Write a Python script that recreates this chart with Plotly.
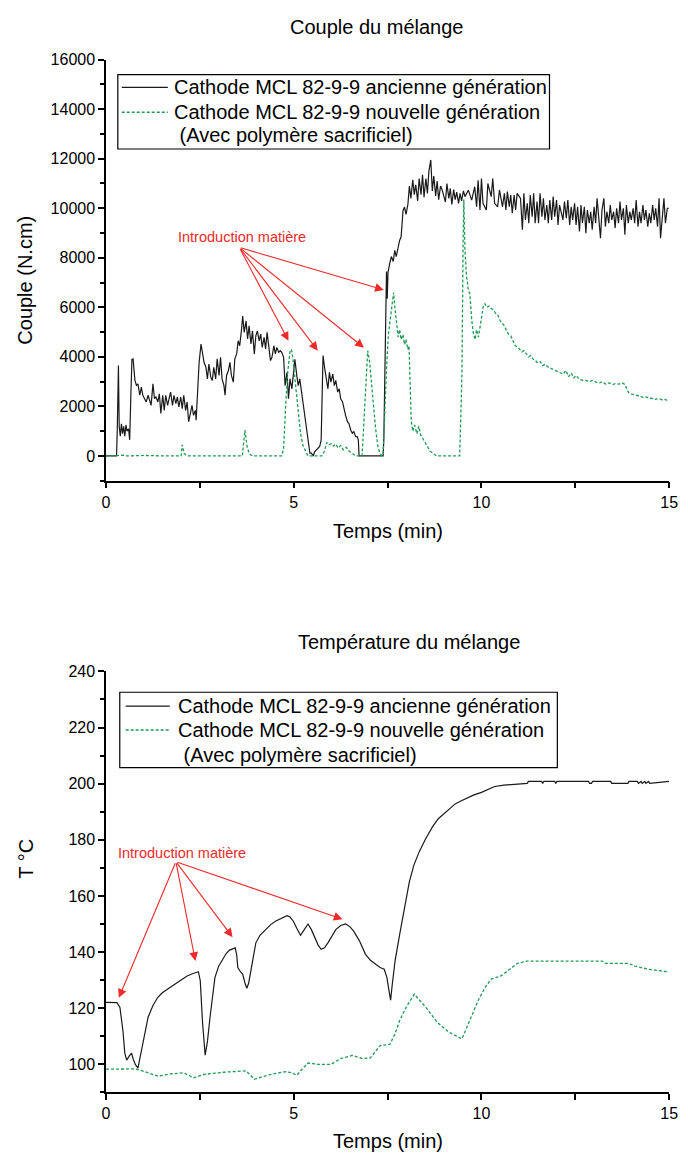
import plotly.graph_objects as go

# ---------------- DATA ----------------
# Torque (N.cm) vs time (min) - old generation cathode
torque_old_t = [0, 0.28, 0.30, 0.33, 0.35, 0.38, 0.41, 0.44, 0.47, 0.50, 0.53, 0.56, 0.60, 0.63, 0.66, 0.69,
    0.72, 0.77, 0.81, 0.85, 0.90, 0.94, 0.98, 1.03, 1.07, 1.12, 1.16, 1.20, 1.25, 1.29, 1.33, 1.38, 1.42, 1.46,
    1.51, 1.55, 1.59, 1.64, 1.68, 1.72, 1.77, 1.81, 1.86, 1.90, 1.94, 1.99, 2.03, 2.07, 2.12, 2.16, 2.20, 2.25,
    2.29, 2.33, 2.38, 2.40, 2.44, 2.48, 2.53, 2.57, 2.61, 2.66, 2.70, 2.74, 2.79, 2.83, 2.87, 2.92, 2.96, 3.01,
    3.05, 3.09, 3.14, 3.17, 3.21, 3.26, 3.30, 3.34, 3.39, 3.43, 3.48, 3.52, 3.56, 3.61, 3.64, 3.68, 3.73, 3.77,
    3.81, 3.86, 3.90, 3.95, 3.99, 4.03, 4.08, 4.12, 4.16, 4.21, 4.25, 4.29, 4.34, 4.38, 4.42, 4.47, 4.51, 4.55,
    4.60, 4.64, 4.68, 4.73, 4.77, 4.82, 4.86, 4.90, 4.95, 4.99, 5.03, 5.08, 5.12, 5.16, 5.21, 5.25, 5.29, 5.34,
    5.38, 5.43, 5.47, 5.52, 5.56, 5.60, 5.64, 5.69, 5.73, 5.76, 5.78, 5.82, 5.86, 5.91, 5.95, 5.99, 6.04, 6.08,
    6.12, 6.17, 6.21, 6.25, 6.30, 6.34, 6.38, 6.43, 6.47, 6.52, 6.56, 6.60, 6.65, 6.69, 6.72, 6.74, 7.38, 7.40,
    7.43, 7.45, 7.47, 7.49, 7.51, 7.56, 7.60, 7.65, 7.69, 7.73, 7.78, 7.82, 7.86, 7.91, 7.95, 7.99, 8.04, 8.08,
    8.12, 8.17, 8.21, 8.25, 8.30, 8.34, 8.39, 8.43, 8.47, 8.52, 8.56, 8.60, 8.65, 8.69, 8.73, 8.78, 8.82, 8.86,
    8.91, 8.95, 9.04, 9.08, 9.13, 9.17, 9.21, 9.26, 9.30, 9.34, 9.39, 9.43, 9.47, 9.52,
    9.56, 9.65, 9.74, 9.82, 9.87, 9.91, 9.96, 10.00, 10.04, 10.13, 10.17, 10.26, 10.30, 10.35, 10.43, 10.48,
    10.56, 10.61, 10.65, 10.69, 10.74, 10.78, 10.82, 10.87, 10.91, 10.95, 11.04, 11.09, 11.13, 11.17, 11.22,
    11.26, 11.30, 11.35, 11.39, 11.43, 11.48, 11.52, 11.56, 11.61, 11.65, 11.69, 11.74, 11.78, 11.82, 11.87,
    11.91, 11.95, 12.00, 12.04, 12.08, 12.17, 12.21, 12.26, 12.30, 12.35, 12.39, 12.43, 12.48, 12.52, 12.56,
    12.61, 12.65, 12.69, 12.74, 12.78, 12.82, 12.87, 12.91, 12.95, 13.00, 13.04, 13.08, 13.13, 13.17, 13.21,
    13.26, 13.30, 13.34, 13.39, 13.43, 13.47, 13.52, 13.56, 13.60, 13.65, 13.69, 13.73, 13.78, 13.82, 13.86,
    13.91, 13.95, 13.99, 14.04, 14.08, 14.12, 14.17, 14.21, 14.25, 14.30, 14.34, 14.38, 14.43, 14.47, 14.51,
    14.56, 14.60, 14.64, 14.69, 14.73, 14.77, 14.82, 14.86, 14.90, 14.95, 14.99]
torque_old = [0, 0, 1100, 3650, 1200, 800, 1300, 900, 1200, 800, 1250, 1000, 1100, 650, 2400, 3900,
    3920, 3050, 2850, 2910, 2450, 2780, 2450, 2310, 2180, 2450, 2240, 2040, 2910, 2310, 2380, 2180, 2510, 1720,
    2450, 1840, 2450, 2040, 2310, 2580, 2040, 2450, 2110, 2380, 1980, 2380, 1910, 2450, 1840, 2180, 1380, 1780,
    2040, 1640, 1840, 1440, 2710, 3780, 4520, 4120, 3780, 3580, 3110, 3710, 3180, 3050, 3580, 3110, 3920, 3250,
    3980, 3110, 2850, 2450, 3250, 3450, 3780, 3250, 2980, 3920, 4120, 4650, 4450, 5120, 5650, 4990, 5450, 4720,
    5250, 4520, 5050, 4120, 4850, 5050, 4650, 4920, 4380, 4790, 4320, 4990, 4450, 3850, 3980, 4450, 4120, 4380,
    4180, 4250, 4180, 3980, 2840, 3380, 2310, 3110, 2710, 3380, 3900, 3250, 2840, 3110, 2580, 2040, 1640, 1110,
    640, 110, 110, 0, 180, 240, 310, 380, 640, 3000, 4050, 3580, 3180, 2710, 3380, 2980, 3310, 2840,
    3050, 2580, 2710, 2310, 2180, 1840, 1640, 1380, 1310, 1040, 920, 980, 780, 780, 640, 0, 0, 720,
    3400, 5650, 7450, 6350, 7400, 7800, 8050, 7850, 8300, 8050, 8450, 8700, 8850, 9900, 10050, 9750, 10150, 10900,
    10400, 11150, 10550, 10950, 10300, 11200, 10550, 11350, 10450, 11200, 10600, 11500, 11950, 10700, 11300, 10500, 11100, 10350,
    10900, 10750, 10250, 11000, 10400, 10800, 10150, 10750, 10350, 10650, 10200, 10600, 10300, 10700,
    10470, 10730, 10330, 10870, 10060, 11130, 9930, 11200, 10200, 9930, 11000, 10470, 11200, 10200, 10060, 10730,
    10060, 10600, 9930, 10670, 10060, 10530, 9800, 10530, 9930, 10600, 10400, 9130, 10600, 9530, 10200,
    9400, 10530, 9660, 10600, 9400, 10270, 9400, 10600, 9660, 10400, 9530, 10130, 9400, 10330, 9530,
    10470, 9660, 10330, 9330, 10130, 9530, 10270, 9600, 10330, 9330, 10060, 9530, 10200, 9330, 10060,
    9060, 10130, 9400, 10060, 8990, 9930, 9400, 9860, 9130, 10060, 9400, 10400, 9530, 8790, 9930,
    10400, 9260, 9860, 9400, 10130, 9530, 9860, 9200, 10000, 9400, 10270, 9530, 10000, 8930, 10130,
    9400, 9860, 9530, 10000, 9400, 10330, 9260, 9860, 9400, 10130, 9530, 9930, 9260, 9800, 9400,
    10130, 9530, 10000, 9260, 10400, 8790, 9860, 10400, 9400, 10000, 10000]

# Torque - new generation cathode (with sacrificial polymer)
torque_new_t = [0, 0.5, 0.55, 1.0, 1.5, 2.0, 2.03, 2.08, 2.15, 3.63, 3.70, 3.76, 3.82, 3.9, 4.68, 4.73, 4.78,
    4.84, 4.90, 4.94, 4.98, 5.03, 5.08, 5.13, 5.18, 5.25, 5.32, 5.38, 5.75, 5.82, 5.88, 5.94, 6.0, 6.06, 6.12,
    6.18, 6.25, 6.32, 6.4, 6.47, 6.55, 6.65, 6.82, 6.87, 6.92, 6.97, 7.02, 7.08, 7.13, 7.18, 7.25, 7.34, 7.38,
    7.42, 7.47, 7.52, 7.57, 7.62, 7.66, 7.70, 7.74, 7.78, 7.82, 7.86, 7.91, 7.95, 7.99, 8.04, 8.07, 8.10, 8.13,
    8.17, 8.22, 8.28, 8.33, 8.38, 8.44, 8.5, 8.56, 8.63, 8.72, 8.8, 9.42, 9.45, 9.48, 9.51, 9.53, 9.56, 9.6,
    9.65, 9.69, 9.74, 9.78, 9.83, 9.87, 9.92, 9.96, 10.01, 10.05, 10.09, 10.14, 10.2, 10.26, 10.32, 10.38,
    10.43, 10.5, 10.56, 10.61, 10.67, 10.73, 10.78, 10.84, 10.9, 10.96, 11.02, 11.08, 11.13, 11.2, 11.26,
    11.31, 11.38, 11.44, 11.5, 11.57, 11.63, 11.7, 11.76, 11.83, 11.9, 11.97, 12.04, 12.11, 12.18, 12.25,
    12.32, 12.39, 12.46, 12.52, 12.6, 12.7, 12.78, 12.87, 12.96, 13.05, 13.15, 13.22, 13.3, 13.4, 13.5,
    13.56, 13.65, 13.75, 13.83, 13.87, 13.92, 14.0, 14.08, 14.18, 14.25, 14.33, 14.4, 14.47, 14.53, 14.6,
    14.68, 14.75, 14.82, 14.9, 14.97]
torque_new = [0, 30, 0, 20, 0, 0, 450, 100, 0, 0, 1040, 350, 80, 0, 0, 300, 1900,
    3400, 4200, 4300, 3900, 3100, 2300, 1600, 900, 400, 150, 0, 0, 200, 550, 450, 500, 400, 480,
    320, 420, 250, 350, 200, 120, 0, 0, 1500, 3200, 4250, 3800, 2700, 1800, 1100, 300, 0, 50,
    2000, 3500, 4900, 5600, 6300, 6600, 5900, 5400, 4800, 5100, 4700, 4900, 4500, 4700, 4300, 4450, 2500, 1400,
    1000, 1250, 900, 1200, 850, 700, 500, 350, 200, 100, 0, 0, 1500, 3300, 8500, 10350, 8300, 7300,
    6700, 6550, 5500, 5000, 4700, 5100, 4800, 5200, 5800, 6050, 6150, 6000, 6050, 5950, 5900, 5750,
    5700, 5450, 5350, 5250, 5050, 4900, 4850, 4650, 4450, 4400, 4300, 4200, 4250, 4100, 4000,
    4050, 3900, 3850, 3750, 3800, 3650, 3700, 3600, 3550, 3500, 3450, 3400, 3380, 3300, 3450,
    3200, 3350, 3150, 3250, 3100, 3050, 3050, 3000, 3050, 2980, 2950, 3000, 2900, 2950, 2880,
    2920, 2900, 2950, 2880, 2700, 2560, 2500, 2480, 2430, 2400, 2350, 2380, 2320, 2330, 2280,
    2300, 2300, 2260, 2280, 2220]

# Temperature (°C) - old generation cathode
temp_old_t = [0, 0.29, 0.37, 0.45, 0.5, 0.55, 0.62, 0.68, 0.72, 0.78, 0.85, 0.94, 1.02, 1.12, 1.25, 1.38,
    1.5, 1.64, 1.78, 1.9, 2.03, 2.16, 2.3, 2.42, 2.46, 2.51, 2.57, 2.64, 2.7, 2.77, 2.84, 2.9, 3.0, 3.12,
    3.2, 3.29, 3.44, 3.48, 3.51, 3.58, 3.64, 3.7, 3.75, 3.8, 3.86, 3.92, 3.99, 4.1, 4.25, 4.38, 4.51, 4.65,
    4.82, 4.9, 4.99, 5.08, 5.18, 5.28, 5.38, 5.47, 5.56, 5.65, 5.73, 5.82, 5.91, 6.0, 6.12, 6.25, 6.38,
    6.5, 6.6, 6.75, 6.91, 7.05, 7.17, 7.3, 7.41, 7.48, 7.54, 7.58, 7.62, 7.7, 7.82, 7.95, 8.08, 8.2, 8.34,
    8.5, 8.69, 8.85, 9.04, 9.2, 9.3, 9.45, 9.56, 9.8, 10.0, 10.2, 10.35, 10.6, 10.92, 11.1, 11.22, 11.25,
    11.6, 11.63, 11.66, 11.95, 11.98, 12.01, 12.85, 12.88, 12.93, 12.96, 13.44, 13.47, 13.9, 13.93,
    14.15, 14.18, 14.25, 14.28, 14.35, 14.38, 14.45, 14.48, 15.0]
temp_old = [122.1, 122, 120.3, 112, 104, 101.5, 103, 104, 102, 100, 98.7, 105, 111, 116.8, 121, 123.9,
    125.5, 126.9, 128.2, 129.2, 130.3, 131.5, 132.3, 132.9, 133, 129.8, 115, 103.3, 108, 116.8, 125, 130.9, 135, 138,
    139.5, 140.7, 141.5, 139, 134.5, 133, 132.1, 129, 127.1, 129, 133.3, 139, 143.3, 146, 148, 149.7, 151, 152,
    153, 152.5, 151, 148.5, 146, 148, 150, 148, 145, 142.5, 141, 141.5, 143.3, 145.5, 148, 149.5, 150,
    149, 147.4, 144, 139.2, 137, 135.7, 134.5, 133.9, 131, 126, 122.9, 128, 137, 146.2, 156, 165.1, 171, 175.7,
    180, 184.5, 187.5, 189.8, 191.5, 192.8, 193.8, 194.5, 196, 196.9, 198, 199, 199.5, 199.8, 200.1, 200.1, 200.8,
    200.8, 200.1, 200.8, 200.8, 200.1, 200.8, 200.8, 200.1, 200.1, 200.8, 200.8, 200.1, 200.1, 200.8,
    200.8, 200.1, 200.8, 200.1, 200.8, 200.1, 200.8, 200.1, 200.8]

# Temperature - new generation cathode
temp_new_t = [0, 0.77, 0.95, 1.12, 1.38, 1.55, 1.72, 2.07, 2.2, 2.33, 2.6, 3.12, 3.73, 3.85, 3.95, 4.34,
    4.77, 4.95, 5.08, 5.2, 5.38, 5.64, 5.99, 6.25, 6.56, 6.82, 7.04, 7.2, 7.3, 7.56, 7.7, 7.82, 8.0, 8.21,
    8.35, 8.52, 8.82, 9.13, 9.48, 9.7, 9.91, 10.1, 10.26, 10.52, 10.75, 10.96, 11.22, 13.22, 13.3, 13.92,
    14.09, 14.44, 14.96]
temp_new = [98.3, 98.4, 97.8, 97, 95.8, 96.2, 96.6, 97, 96, 95.2, 96.4, 97.2, 97.7, 96, 94.7, 96.3,
    97.4, 97, 96.1, 98, 100.5, 100, 100, 102.1, 103.2, 102.1, 102.3, 105, 106.7, 107.1, 111, 115.6, 120.5, 125,
    123, 120.3, 115, 111.5, 109.1, 116, 122.7, 127.5, 130.4, 131.5, 134, 136, 136.8, 136.8, 136, 136,
    135, 133.9, 133]

name_old = "Cathode MCL 82-9-9 ancienne génération"
name_new = "Cathode MCL 82-9-9 nouvelle génération"
name_new2 = " (Avec polymère sacrificiel)"
title_top = "Couple du mélange"
title_bot = "Température du mélange"
ylab_top = "Couple (N.cm)"
ylab_bot = "T °C"
xlab = "Temps (min)"
intro = "Introduction matière"

# arrow targets (data coords) and sources
arrows_top = [(4.86, 4650), (5.64, 4250), (6.87, 4370), (7.40, 6700)]
arrow_src_top = (3.55, 8420)
arrows_bot = [(0.34, 123.7), (2.38, 136.8), (3.37, 145.3), (6.30, 151.7)]
arrow_src_bot = (1.86, 172.2)

# ---------------- FIGURE ----------------
W, H = 688, 1158
FONT = "Liberation Sans, Arial, sans-serif"
BLACK = "#1a1a1a"
GREEN = "#1f9a55"
RED = "#ee2a2a"

def px(x):
    return x / W

def py(y):
    return 1 - y / H

fig = go.Figure()
fig.add_trace(go.Scatter(x=torque_old_t, y=torque_old, mode="lines",
                         line=dict(color=BLACK, width=1.2), xaxis="x", yaxis="y", showlegend=False))
fig.add_trace(go.Scatter(x=torque_new_t, y=torque_new, mode="lines",
                         line=dict(color=GREEN, width=1.3, dash="3px,2px"), xaxis="x", yaxis="y", showlegend=False))
fig.add_trace(go.Scatter(x=temp_old_t, y=temp_old, mode="lines",
                         line=dict(color=BLACK, width=1.2), xaxis="x2", yaxis="y2", showlegend=False))
fig.add_trace(go.Scatter(x=temp_new_t, y=temp_new, mode="lines",
                         line=dict(color=GREEN, width=1.3, dash="3px,2px"), xaxis="x2", yaxis="y2", showlegend=False))

axis_common = dict(showline=True, linecolor="black", linewidth=1.5, ticks="outside", ticklen=6,
                   tickwidth=1.5, tickcolor="black", showgrid=False, zeroline=False,
                   tickfont=dict(family=FONT, size=16, color="black"))
xdom = [px(104), px(678)]
fig.update_layout(
    width=W, height=H, margin=dict(l=0, r=0, t=0, b=0),
    paper_bgcolor="white", plot_bgcolor="white",
    xaxis=dict(domain=xdom, range=[0, 15], dtick=5, tick0=0, anchor="y",
               minor=dict(ticks="outside", ticklen=6, dtick=2.5, tickwidth=1.5, tickcolor="black"), **axis_common),
    yaxis=dict(domain=[py(476), py(52)], range=[-1000, 16000], tickvals=list(range(0, 16001, 2000)),
               tickformat="d", anchor="x",
               minor=dict(ticks="outside", ticklen=4, dtick=1000, tick0=0, tickwidth=1.5, tickcolor="black"), **axis_common),
    xaxis2=dict(domain=xdom, range=[0, 15], dtick=5, tick0=0, anchor="y2",
                minor=dict(ticks="outside", ticklen=6, dtick=2.5, tickwidth=1.5, tickcolor="black"), **axis_common),
    yaxis2=dict(domain=[py(1092), py(668)], range=[90, 240], tickvals=list(range(100, 241, 20)), anchor="x2",
                minor=dict(ticks="outside", ticklen=4, dtick=10, tick0=90, tickwidth=1.5, tickcolor="black"), **axis_common),
)

ann = []
def text(t, x, y, size, color="black", angle=0, xanchor="center"):
    ann.append(dict(text=t, x=x, y=y, xref="paper", yref="paper", showarrow=False, textangle=angle,
                    xanchor=xanchor, yanchor="middle", font=dict(family=FONT, size=size, color=color)))

text(title_top, px(380), py(19), 20)
text(title_bot, px(413), py(638), 20)
text(xlab, px(391), py(527), 20)
text(xlab, px(391), py(1141), 20)
text(ylab_top, px(22), py(274), 20, angle=-90)
text(ylab_bot, px(22), py(857), 20, angle=-90)

# legends (manual)
shapes = []
def legend(x0, x1, y0, y1, rows, sx0, sx1, tx):
    shapes.append(dict(type="rect", xref="paper", yref="paper", x0=px(x0), x1=px(x1), y0=py(y1), y1=py(y0),
                       line=dict(color="black", width=1.2), fillcolor="white", layer="above"))
    shapes.append(dict(type="line", xref="paper", yref="paper", x0=px(sx0), x1=px(sx1), y0=py(rows[0]), y1=py(rows[0]),
                       line=dict(color=BLACK, width=1.2)))
    shapes.append(dict(type="line", xref="paper", yref="paper", x0=px(sx0), x1=px(sx1), y0=py(rows[1]), y1=py(rows[1]),
                       line=dict(color=GREEN, width=1.3, dash="3px,2px")))
    text(name_old, px(tx), py(rows[0]), 20, xanchor="left")
    text(name_new, px(tx), py(rows[1]), 20, xanchor="left")
    text(name_new2, px(tx), py(rows[2]), 20, xanchor="left")

legend(116, 556, 67, 142, [80, 105, 128], 120, 167, 171)
legend(118, 564, 689, 765, [703, 727, 752], 124, 169, 175)

# arrows
for (hx, hy) in arrows_top:
    ann.append(dict(x=hx, y=hy, xref="x", yref="y", ax=arrow_src_top[0], ay=arrow_src_top[1], axref="x", ayref="y",
                    text="", showarrow=True, arrowhead=2, arrowsize=1.6, arrowwidth=1.1, arrowcolor=RED))
for (hx, hy) in arrows_bot:
    ann.append(dict(x=hx, y=hy, xref="x2", yref="y2", ax=arrow_src_bot[0], ay=arrow_src_bot[1], axref="x2", ayref="y2",
                    text="", showarrow=True, arrowhead=2, arrowsize=1.6, arrowwidth=1.1, arrowcolor=RED))
text(intro, px(243), py(231), 14.5, color=RED)
text(intro, px(181), py(851), 14.5, color=RED)

fig.update_layout(annotations=ann, shapes=shapes)
# remove the default 8px page margin so the 688x1158 figure fills the window exactly; hide the modebar
fig.write_html("out.html", config={"displayModeBar": False},
               post_script="document.body.style.margin='0';document.body.style.overflow='hidden';")
